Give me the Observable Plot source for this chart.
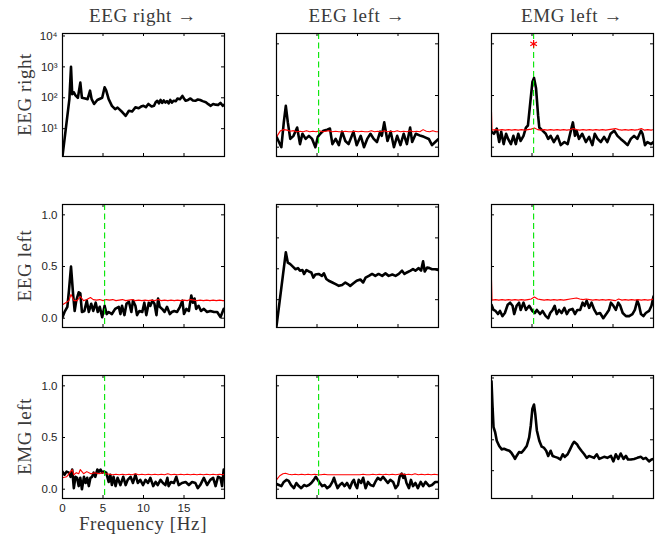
<!DOCTYPE html>
<html><head><meta charset="utf-8">
<script src="https://cdn.jsdelivr.net/npm/d3@7"></script>
<script src="https://cdn.jsdelivr.net/npm/@observablehq/plot@0.6"></script>
<style>
body{margin:0;background:#fff;}
#chart{position:relative;width:656px;height:539px;background:#fff;overflow:hidden;}
.panel{position:absolute;}
#labels{position:absolute;left:0;top:0;}
</style></head><body><div id="chart"></div>
<script>
// ---------- labels ----------
const colTitles = ["EEG right \u2192", "EEG left \u2192", "EMG left \u2192"];
const rowLabels = ["EEG right", "EEG left", "EMG left"];
const xAxisLabel = "Frequency [Hz]";
const xTickValues = [0, 5, 10, 15, 20];
const xTickLabelled = [0, 5, 10, 15];
const linTickValues = [0, 0.5, 1.0];
const logTickValues = [10, 100, 1000, 10000];
const peakFreq = 5.2;     // dashed green marker
const starValue = 1.0;    // significance asterisk (EEG right <- EMG left)

// ---------- diagonal: spectra (log) ----------
const spec_EEGright = [[0,1.3],[0.85,90],[1.05,1000],[1.2,130],[1.4,150],[1.6,120],[1.9,100],[2.2,310],[2.4,100],[2.8,95],[3.1,90],[3.4,170],[3.6,90],[3.9,63],[4.3,85],[4.7,95],[4.9,100],[5.2,220],[5.4,170],[5.7,90],[6.1,55],[6.5,43],[6.8,48],[7.0,43],[7.4,34],[7.8,26],[8.2,38],[8.6,36],[9.0,49],[9.4,46],[9.7,52],[10.0,55],[10.3,50],[10.6,63],[11.0,52],[11.3,55],[11.5,72],[11.7,80],[11.9,66],[12.1,85],[12.3,68],[12.5,82],[12.7,70],[12.9,78],[13.1,66],[13.3,85],[13.5,70],[13.7,80],[14.0,78],[14.2,95],[14.5,90],[14.8,115],[15.0,95],[15.2,80],[15.5,85],[15.8,95],[16.1,82],[16.4,80],[16.7,88],[17.0,85],[17.3,78],[17.7,72],[18.0,62],[18.3,55],[18.6,63],[18.9,60],[19.2,58],[19.5,68],[19.8,55],[20,60]];
const spec_EEGleft = [[0,1.4],[1.15,340],[1.4,158],[1.7,141],[2.05,115],[2.35,97],[2.65,105],[2.9,87],[3.2,91],[3.4,68],[3.7,91],[4.0,82],[4.3,76],[4.55,52],[4.8,65],[5.2,68],[5.6,59],[5.85,71],[6.15,47],[6.45,41],[6.9,36],[7.3,32],[7.7,28],[8.1,30],[8.5,36],[8.8,32],[9.1,28],[9.5,34],[9.9,41],[10.35,45],[10.7,36],[11.0,52],[11.4,59],[11.8,68],[12.2,59],[12.6,68],[13.05,59],[13.45,71],[13.85,59],[14.3,65],[14.7,59],[15.1,68],[15.5,87],[15.8,68],[16.1,76],[16.55,87],[16.85,97],[17.15,87],[17.55,105],[17.85,87],[18.1,174],[18.3,82],[18.6,110],[18.9,105],[19.2,97],[19.6,97],[20,91]];
const spec_EMGleft = [[0,7800],[0.12,1300],[0.25,255],[0.45,175],[0.65,93],[0.95,63],[1.25,49],[1.55,51],[1.9,47],[2.2,44],[2.45,38],[2.7,30],[2.9,24],[3.1,30],[3.4,40],[3.7,38],[4.05,49],[4.35,63],[4.65,120],[4.85,290],[5.05,1020],[5.25,1380],[5.4,700],[5.6,200],[5.9,93],[6.2,60],[6.45,56],[6.75,44],[7.0,30],[7.3,44],[7.55,30],[7.85,28],[8.2,26],[8.5,23],[8.8,34],[9.05,28],[9.4,34],[9.7,49],[10.0,72],[10.2,86],[10.55,72],[10.8,56],[11.1,44],[11.45,34],[11.75,26],[12.05,30],[12.35,28],[12.65,26],[13.0,34],[13.3,24],[13.6,26],[13.9,28],[14.3,26],[14.75,30],[15.05,20],[15.35,34],[15.65,24],[15.95,36],[16.3,24],[16.6,30],[16.85,23],[17.2,23],[17.6,24],[18.0,26],[18.45,28],[18.75,24],[19.05,26],[19.45,20],[19.75,23],[20,24]];

// ---------- off-diagonal: coherence (black) ----------
const coh_EEGright_EEGleft = [[0,0.10],[0.3,0.05],[0.6,0.0],[0.9,0.24],[1.15,0.40],[1.4,0.24],[1.7,0.08],[2.1,0.11],[2.55,0.19],[2.9,0.03],[3.2,0.13],[3.6,0.08],[4.0,0.11],[4.4,0.08],[4.8,0.0],[5.1,0.10],[5.4,0.13],[5.8,0.16],[6.25,0.17],[6.6,0.18],[6.9,0.03],[7.3,0.08],[7.7,0.02],[8.1,0.15],[8.5,0.06],[8.9,0.03],[9.5,0.15],[9.9,0.02],[10.4,0.11],[10.8,0.0],[11.2,0.08],[11.6,0.13],[12.0,0.08],[12.4,0.05],[12.8,0.15],[13.0,0.11],[13.3,0.24],[13.7,0.06],[14.1,0.15],[14.5,0.0],[14.9,0.11],[15.3,0.02],[15.7,0.13],[16.1,0.03],[16.5,0.19],[16.75,0.05],[17.2,0.13],[17.8,0.11],[18.2,0.10],[18.8,0.08],[19.2,0.02],[19.6,0.05],[20,0.08]];
const coh_EEGright_EMGleft = [[0,0.15],[0.3,0.13],[0.65,0.18],[0.95,0.05],[1.2,0.15],[1.5,0.03],[1.8,0.13],[2.05,0.08],[2.4,0.03],[2.7,0.11],[3.0,0.03],[3.3,0.13],[3.6,0.06],[3.95,0.11],[4.25,0.19],[4.5,0.21],[4.8,0.44],[5.05,0.63],[5.25,0.67],[5.5,0.57],[5.75,0.31],[5.9,0.19],[6.3,0.16],[6.7,0.13],[7.0,0.08],[7.3,0.11],[7.7,0.05],[8.15,0.11],[8.55,0.02],[9.0,0.05],[9.4,0.03],[9.8,0.16],[10.05,0.24],[10.3,0.11],[10.5,0.16],[10.8,0.08],[11.2,0.13],[11.65,0.05],[12.05,0.10],[12.45,0.02],[12.75,0.13],[13.1,0.08],[13.5,0.05],[13.9,0.10],[14.3,0.05],[14.7,0.13],[15.15,0.16],[15.55,0.11],[15.95,0.08],[16.4,0.05],[16.8,0.02],[17.2,0.08],[17.6,0.11],[18.0,0.08],[18.45,0.16],[18.65,0.13],[18.95,0.02],[19.25,0.05],[19.7,0.03],[20,0.05]];
const coh_EEGleft_EEGright = [[0,0.01],[0.25,0.06],[0.6,0.11],[0.8,0.27],[1.05,0.50],[1.3,0.24],[1.5,0.07],[1.7,0.17],[2.0,0.25],[2.2,0.24],[2.4,0.06],[2.7,0.07],[3.0,0.17],[3.25,0.06],[3.55,0.14],[3.8,0.07],[4.1,0.15],[4.35,0.06],[4.6,0.11],[4.9,0.01],[5.2,0.12],[5.45,0.04],[5.7,0.06],[6.1,0.04],[6.5,0.09],[6.95,0.11],[7.15,0.04],[7.35,0.12],[7.65,0.03],[7.9,0.14],[8.2,0.16],[8.5,0.06],[8.7,0.17],[9.0,0.12],[9.2,0.03],[9.5,0.07],[9.85,0.06],[10.1,0.15],[10.35,0.03],[10.65,0.15],[10.85,0.12],[11.1,0.17],[11.35,0.14],[11.6,0.03],[11.8,0.19],[12.0,0.11],[12.3,0.09],[12.6,0.06],[12.9,0.11],[13.25,0.04],[13.5,0.06],[13.8,0.07],[14.15,0.06],[14.5,0.11],[14.8,0.17],[15.0,0.04],[15.3,0.09],[15.6,0.07],[15.9,0.22],[16.1,0.15],[16.3,0.19],[16.5,0.09],[16.8,0.12],[17.1,0.07],[17.45,0.09],[17.85,0.06],[18.25,0.07],[18.7,0.06],[19.1,0.06],[19.5,0.01],[19.9,0.09],[20,0.08]];
const coh_EEGleft_EMGleft = [[0,0.13],[0.25,0.08],[0.5,0.07],[0.8,0.04],[1.05,0.07],[1.35,0.02],[1.65,0.05],[2.0,0.13],[2.3,0.15],[2.6,0.12],[2.8,0.04],[3.1,0.12],[3.4,0.15],[3.6,0.08],[3.95,0.15],[4.25,0.08],[4.65,0.12],[5.05,0.07],[5.35,0.05],[5.6,0.08],[6.0,0.04],[6.3,0.07],[6.7,0.02],[7.0,0.0],[7.25,0.05],[7.55,0.08],[7.8,0.12],[8.05,0.04],[8.35,0.08],[8.65,0.05],[9.0,0.10],[9.3,0.04],[9.6,0.08],[10.0,0.09],[10.3,0.04],[10.6,0.08],[10.95,0.08],[11.25,0.15],[11.5,0.12],[11.75,0.17],[12.05,0.10],[12.35,0.15],[12.7,0.08],[13.0,0.04],[13.4,0.05],[13.8,0.0],[14.25,0.05],[14.5,0.08],[14.75,0.15],[15.05,0.12],[15.35,0.08],[15.65,0.15],[15.9,0.12],[16.2,0.05],[16.6,0.02],[17.0,0.02],[17.4,0.04],[17.7,0.08],[18.0,0.17],[18.2,0.13],[18.45,0.04],[18.75,0.02],[19.05,0.05],[19.45,0.07],[19.75,0.12],[20,0.21]];
const coh_EMGleft_EEGright = [[0,0.17],[0.25,0.14],[0.5,0.17],[0.8,0.16],[1.0,0.12],[1.2,0.19],[1.4,0.01],[1.6,0.12],[1.8,0.11],[2.0,0.03],[2.2,0.11],[2.4,0.0],[2.65,0.12],[2.85,0.06],[3.05,0.11],[3.25,0.03],[3.45,0.11],[3.65,0.12],[3.85,0.16],[4.05,0.12],[4.3,0.19],[4.5,0.17],[4.7,0.19],[4.9,0.16],[5.1,0.17],[5.4,0.16],[5.7,0.07],[5.9,0.14],[6.1,0.04],[6.3,0.12],[6.55,0.03],[6.8,0.11],[7.15,0.04],[7.5,0.12],[7.8,0.04],[8.05,0.09],[8.4,0.12],[8.7,0.06],[9.0,0.14],[9.3,0.06],[9.6,0.09],[9.95,0.04],[10.25,0.09],[10.55,0.06],[10.85,0.11],[11.2,0.03],[11.5,0.07],[11.75,0.04],[12.1,0.09],[12.4,0.06],[12.7,0.04],[12.95,0.11],[13.1,0.03],[13.4,0.07],[13.75,0.06],[14.05,0.12],[14.35,0.04],[14.75,0.06],[15.2,0.07],[15.6,0.04],[16.0,0.07],[16.4,0.06],[16.7,0.01],[17.0,0.04],[17.45,0.11],[17.85,0.04],[18.25,0.09],[18.6,0.11],[18.9,0.03],[19.2,0.12],[19.5,0.11],[19.7,0.03],[19.9,0.19],[20,0.17]];
const coh_EMGleft_EEGleft = [[0,0.05],[0.3,0.04],[0.6,0.03],[0.9,0.07],[1.25,0.09],[1.5,0.08],[1.8,0.04],[2.15,0.01],[2.45,0.06],[2.75,0.03],[3.05,0.01],[3.4,0.04],[3.7,0.03],[4.0,0.04],[4.3,0.06],[4.6,0.09],[4.85,0.12],[5.1,0.09],[5.35,0.06],[5.65,0.03],[5.95,0.04],[6.25,0.01],[6.6,0.03],[6.9,0.07],[7.1,0.11],[7.3,0.06],[7.55,0.01],[7.8,0.04],[8.1,0.06],[8.4,0.03],[8.7,0.06],[9.05,0.01],[9.35,0.07],[9.55,0.09],[9.75,0.04],[9.95,0.01],[10.15,0.09],[10.45,0.06],[10.7,0.11],[11.0,0.01],[11.3,0.07],[11.6,0.04],[11.95,0.03],[12.2,0.07],[12.5,0.11],[12.85,0.09],[13.15,0.12],[13.45,0.09],[13.75,0.06],[14.05,0.09],[14.4,0.07],[14.7,0.01],[15.0,0.04],[15.2,0.12],[15.45,0.15],[15.65,0.11],[15.8,0.14],[16.05,0.06],[16.35,0.01],[16.6,0.09],[16.85,0.03],[17.15,0.06],[17.45,0.01],[17.8,0.07],[18.1,0.03],[18.4,0.07],[18.85,0.03],[19.2,0.04],[19.6,0.07],[20,0.07]];

// ---------- off-diagonal: significance thresholds (red) ----------
const thr_EEGright_EEGleft = [[0,0.10],[0.5,0.16],[0.9,0.17],[1.3,0.165],[1.7,0.155],[2.1,0.16],[2.5,0.15],[2.9,0.155],[3.3,0.15],[3.7,0.16],[4.1,0.15],[4.5,0.155],[4.9,0.15],[5.3,0.16],[5.7,0.15],[6.1,0.155],[6.5,0.16],[6.9,0.15],[7.3,0.155],[7.7,0.15],[8.1,0.15],[8.5,0.155],[8.9,0.15],[9.3,0.15],[9.7,0.155],[10.1,0.15],[10.5,0.155],[10.9,0.15],[11.3,0.15],[11.7,0.16],[12.1,0.15],[12.5,0.155],[12.9,0.15],[13.3,0.16],[13.7,0.15],[14.1,0.155],[14.5,0.15],[14.9,0.16],[15.3,0.15],[15.7,0.155],[16.1,0.15],[16.5,0.16],[16.9,0.15],[17.3,0.155],[17.7,0.15],[18.1,0.17],[18.5,0.155],[18.9,0.15],[19.3,0.16],[19.7,0.15],[20,0.15]];
const thr_EEGright_EMGleft = [[0,0.34],[0.06,0.165],[0.5,0.17],[0.9,0.165],[1.3,0.17],[1.7,0.165],[2.1,0.17],[2.5,0.165],[2.9,0.17],[3.3,0.165],[3.7,0.17],[4.1,0.165],[4.5,0.17],[4.9,0.175],[5.3,0.185],[5.7,0.17],[6.1,0.165],[6.5,0.17],[6.9,0.165],[7.3,0.17],[7.7,0.165],[8.1,0.17],[8.5,0.165],[8.9,0.17],[9.3,0.165],[9.7,0.17],[10.1,0.18],[10.5,0.17],[10.9,0.165],[11.3,0.17],[11.7,0.165],[12.1,0.17],[12.5,0.165],[12.9,0.17],[13.3,0.165],[13.7,0.17],[14.1,0.165],[14.5,0.17],[14.9,0.175],[15.3,0.18],[15.7,0.17],[16.1,0.165],[16.5,0.17],[16.9,0.165],[17.3,0.17],[17.7,0.165],[18.1,0.17],[18.5,0.18],[18.9,0.165],[19.3,0.17],[19.7,0.165],[20,0.17]];
const thr_EEGleft_EEGright = [[0,0.13],[0.4,0.15],[0.8,0.17],[1.05,0.23],[1.4,0.17],[1.8,0.17],[2.2,0.21],[2.6,0.17],[3.0,0.18],[3.45,0.20],[3.8,0.18],[4.2,0.175],[4.6,0.18],[5.0,0.17],[5.4,0.18],[5.8,0.175],[6.2,0.18],[6.6,0.17],[7.0,0.175],[7.4,0.18],[7.8,0.17],[8.2,0.175],[8.6,0.18],[9.0,0.17],[9.4,0.175],[9.8,0.17],[10.2,0.175],[10.6,0.17],[11.0,0.175],[11.4,0.17],[11.8,0.18],[12.2,0.17],[12.6,0.175],[13.0,0.17],[13.4,0.175],[13.8,0.17],[14.2,0.175],[14.6,0.17],[15.0,0.175],[15.4,0.17],[15.8,0.18],[16.2,0.175],[16.6,0.17],[17.0,0.175],[17.4,0.17],[17.8,0.175],[18.2,0.17],[18.6,0.175],[19.0,0.17],[19.4,0.175],[19.8,0.17],[20,0.17]];
const thr_EEGleft_EMGleft = [[0,0.37],[0.06,0.175],[0.5,0.18],[0.9,0.175],[1.3,0.18],[1.7,0.175],[2.1,0.18],[2.5,0.175],[2.9,0.18],[3.3,0.175],[3.7,0.18],[4.1,0.175],[4.5,0.18],[4.9,0.185],[5.3,0.205],[5.7,0.185],[6.1,0.18],[6.5,0.175],[6.9,0.18],[7.3,0.175],[7.7,0.18],[8.1,0.175],[8.5,0.18],[8.9,0.175],[9.3,0.18],[9.7,0.185],[10.1,0.19],[10.5,0.195],[10.9,0.185],[11.3,0.18],[11.7,0.185],[12.1,0.18],[12.5,0.175],[12.9,0.18],[13.3,0.175],[13.7,0.18],[14.1,0.175],[14.5,0.18],[14.9,0.175],[15.3,0.17],[15.7,0.185],[16.1,0.175],[16.5,0.18],[16.9,0.175],[17.3,0.18],[17.7,0.175],[18.1,0.18],[18.5,0.175],[18.9,0.18],[19.3,0.175],[19.7,0.18],[20,0.185]];
const thr_EMGleft_EEGright = [[0,0.11],[0.5,0.12],[1.0,0.17],[1.2,0.19],[1.4,0.14],[1.7,0.16],[2.0,0.15],[2.2,0.19],[2.6,0.15],[3.0,0.17],[3.5,0.15],[4.0,0.16],[4.5,0.15],[5.0,0.16],[5.4,0.15],[5.8,0.145],[6.2,0.14],[6.6,0.145],[7.0,0.14],[7.4,0.145],[7.8,0.14],[8.2,0.145],[8.6,0.14],[9.0,0.15],[9.4,0.14],[9.8,0.145],[10.2,0.14],[10.6,0.145],[11.0,0.14],[11.4,0.145],[11.8,0.14],[12.2,0.145],[12.6,0.14],[13.0,0.15],[13.4,0.14],[13.8,0.145],[14.2,0.14],[14.6,0.145],[15.0,0.14],[15.4,0.145],[15.8,0.14],[16.2,0.145],[16.6,0.14],[17.0,0.145],[17.4,0.14],[17.8,0.145],[18.2,0.14],[18.6,0.145],[19.0,0.14],[19.4,0.145],[19.8,0.14],[20,0.145]];
const thr_EMGleft_EEGleft = [[0,0.09],[0.4,0.13],[0.8,0.15],[1.1,0.155],[1.5,0.145],[1.9,0.14],[2.3,0.145],[2.7,0.14],[3.1,0.145],[3.5,0.14],[3.9,0.145],[4.3,0.14],[4.7,0.145],[5.1,0.14],[5.5,0.14],[5.9,0.145],[6.3,0.14],[6.7,0.14],[7.1,0.14],[7.5,0.14],[7.9,0.14],[8.3,0.14],[8.7,0.14],[9.1,0.14],[9.5,0.14],[9.9,0.14],[10.3,0.14],[10.7,0.145],[11.1,0.14],[11.5,0.14],[11.9,0.145],[12.3,0.14],[12.7,0.145],[13.1,0.14],[13.5,0.145],[13.9,0.14],[14.3,0.145],[14.7,0.14],[15.1,0.145],[15.5,0.15],[15.9,0.14],[16.3,0.145],[16.7,0.14],[17.1,0.15],[17.5,0.14],[17.9,0.145],[18.3,0.14],[18.7,0.145],[19.1,0.14],[19.5,0.145],[19.9,0.14],[20,0.14]];

// ---------- layout ----------
const colX = [62, 276, 491];
const rowY = [33, 204, 375];
const W = 162, H = 123;
const ML = 45, MR = 6, MT = 6, MB = 28;
const chart = document.getElementById("chart");
const sup = {1: "\u00B9", 2: "\u00B2", 3: "\u00B3", 4: "\u2074"};
const tickFont = "'Liberation Sans', Arial, sans-serif";
const tickColor = "#262626";

const panels = [
  {r:0, c:0, black: spec_EEGright, log: true},
  {r:0, c:1, black: coh_EEGright_EEGleft, red: thr_EEGright_EEGleft},
  {r:0, c:2, black: coh_EEGright_EMGleft, red: thr_EEGright_EMGleft, star: true},
  {r:1, c:0, black: coh_EEGleft_EEGright, red: thr_EEGleft_EEGright},
  {r:1, c:1, black: spec_EEGleft, log: true},
  {r:1, c:2, black: coh_EEGleft_EMGleft, red: thr_EEGleft_EMGleft},
  {r:2, c:0, black: coh_EMGleft_EEGright, red: thr_EMGleft_EEGright},
  {r:2, c:1, black: coh_EMGleft_EEGleft, red: thr_EMGleft_EEGleft},
  {r:2, c:2, black: spec_EMGleft, log: true}
];

for (const p of panels) {
  const yTicks = p.log ? logTickValues : linTickValues;
  const showY = p.c === 0;
  const showX = p.c === 0 && p.r === 2;
  const marks = [];
  // inward ticks on all four sides
  marks.push(Plot.ruleX(xTickValues, {stroke: "black", strokeWidth: 1, insetBottom: H - 3}));
  marks.push(Plot.ruleX(xTickValues, {stroke: "black", strokeWidth: 1, insetTop: H - 3}));
  marks.push(Plot.ruleY(yTicks, {stroke: "black", strokeWidth: 1, insetRight: W - 3}));
  marks.push(Plot.ruleY(yTicks, {stroke: "black", strokeWidth: 1, insetLeft: W - 3}));
  marks.push(Plot.line(p.black, {x: d => d[0], y: d => d[1], stroke: "black", strokeWidth: 2.6, strokeLinejoin: "round", clip: true}));
  if (p.red) {
    marks.push(Plot.line(p.red, {x: d => d[0], y: d => d[1], stroke: "#ff0000", strokeWidth: 1.1, clip: true}));
    marks.push(Plot.ruleX([peakFreq], {stroke: "#00e600", strokeWidth: 1.1, strokeDasharray: "6,3.5"}));
  }
  if (p.star) {
    marks.push(Plot.dot([[peakFreq, starValue]], {x: d => d[0], y: d => d[1], symbol: "asterisk", r: 3.6, stroke: "#ff0000", strokeWidth: 1.2}));
  }
  marks.push(Plot.frame({stroke: "black", strokeWidth: 1.2}));
  if (showY) {
    marks.push(Plot.axisY(yTicks, {
      anchor: "left", tickSize: 0, tickPadding: 5, label: null,
      tickFormat: p.log ? (d => "10" + sup[Math.round(Math.log10(d))]) : (d => d.toFixed(1)),
      fontSize: 11.5, fontFamily: tickFont, fill: tickColor
    }));
  }
  if (showX) {
    marks.push(Plot.axisX(xTickLabelled, {
      anchor: "bottom", tickSize: 0, tickPadding: 5, label: null,
      tickFormat: d => String(d), fontSize: 11.5, fontFamily: tickFont, fill: tickColor
    }));
  }
  const svg = Plot.plot({
    width: W + ML + MR, height: H + MT + MB,
    marginLeft: ML, marginRight: MR, marginTop: MT, marginBottom: MB,
    x: {domain: [0, 20], axis: showX ? undefined : null},
    y: p.log ? {type: "log", domain: [Math.pow(10, 0.1), Math.pow(10, 4.08)], axis: showY ? undefined : null}
             : {domain: [-0.09, 1.1], axis: showY ? undefined : null},
    style: {background: "transparent", overflow: "visible"},
    marks
  });
  svg.classList.add("panel");
  svg.style.left = (colX[p.c] - ML) + "px";
  svg.style.top = (rowY[p.r] - MT) + "px";
  chart.appendChild(svg);
}

// ---------- titles and axis labels ----------
const lab = d3.select(chart).append("svg").attr("id", "labels")
  .attr("width", 656).attr("height", 539)
  .style("font-family", "'Liberation Serif', 'Times New Roman', serif")
  .style("fill", "#3a3a3a");
colTitles.forEach((t, i) => {
  lab.append("text").attr("x", colX[i] + W / 2).attr("y", 22)
    .attr("text-anchor", "middle").attr("font-size", 19).attr("letter-spacing", 0.6).text(t);
});
rowLabels.forEach((t, i) => {
  const cy = rowY[i] + H / 2;
  lab.append("text").attr("transform", `translate(31,${cy}) rotate(-90)`)
    .attr("text-anchor", "middle").attr("font-size", 19).attr("letter-spacing", 0.6).text(t);
});
lab.append("text").attr("x", colX[0] + W / 2).attr("y", 530)
  .attr("text-anchor", "middle").attr("font-size", 19).attr("letter-spacing", 0.6).text(xAxisLabel);
</script></body></html>
